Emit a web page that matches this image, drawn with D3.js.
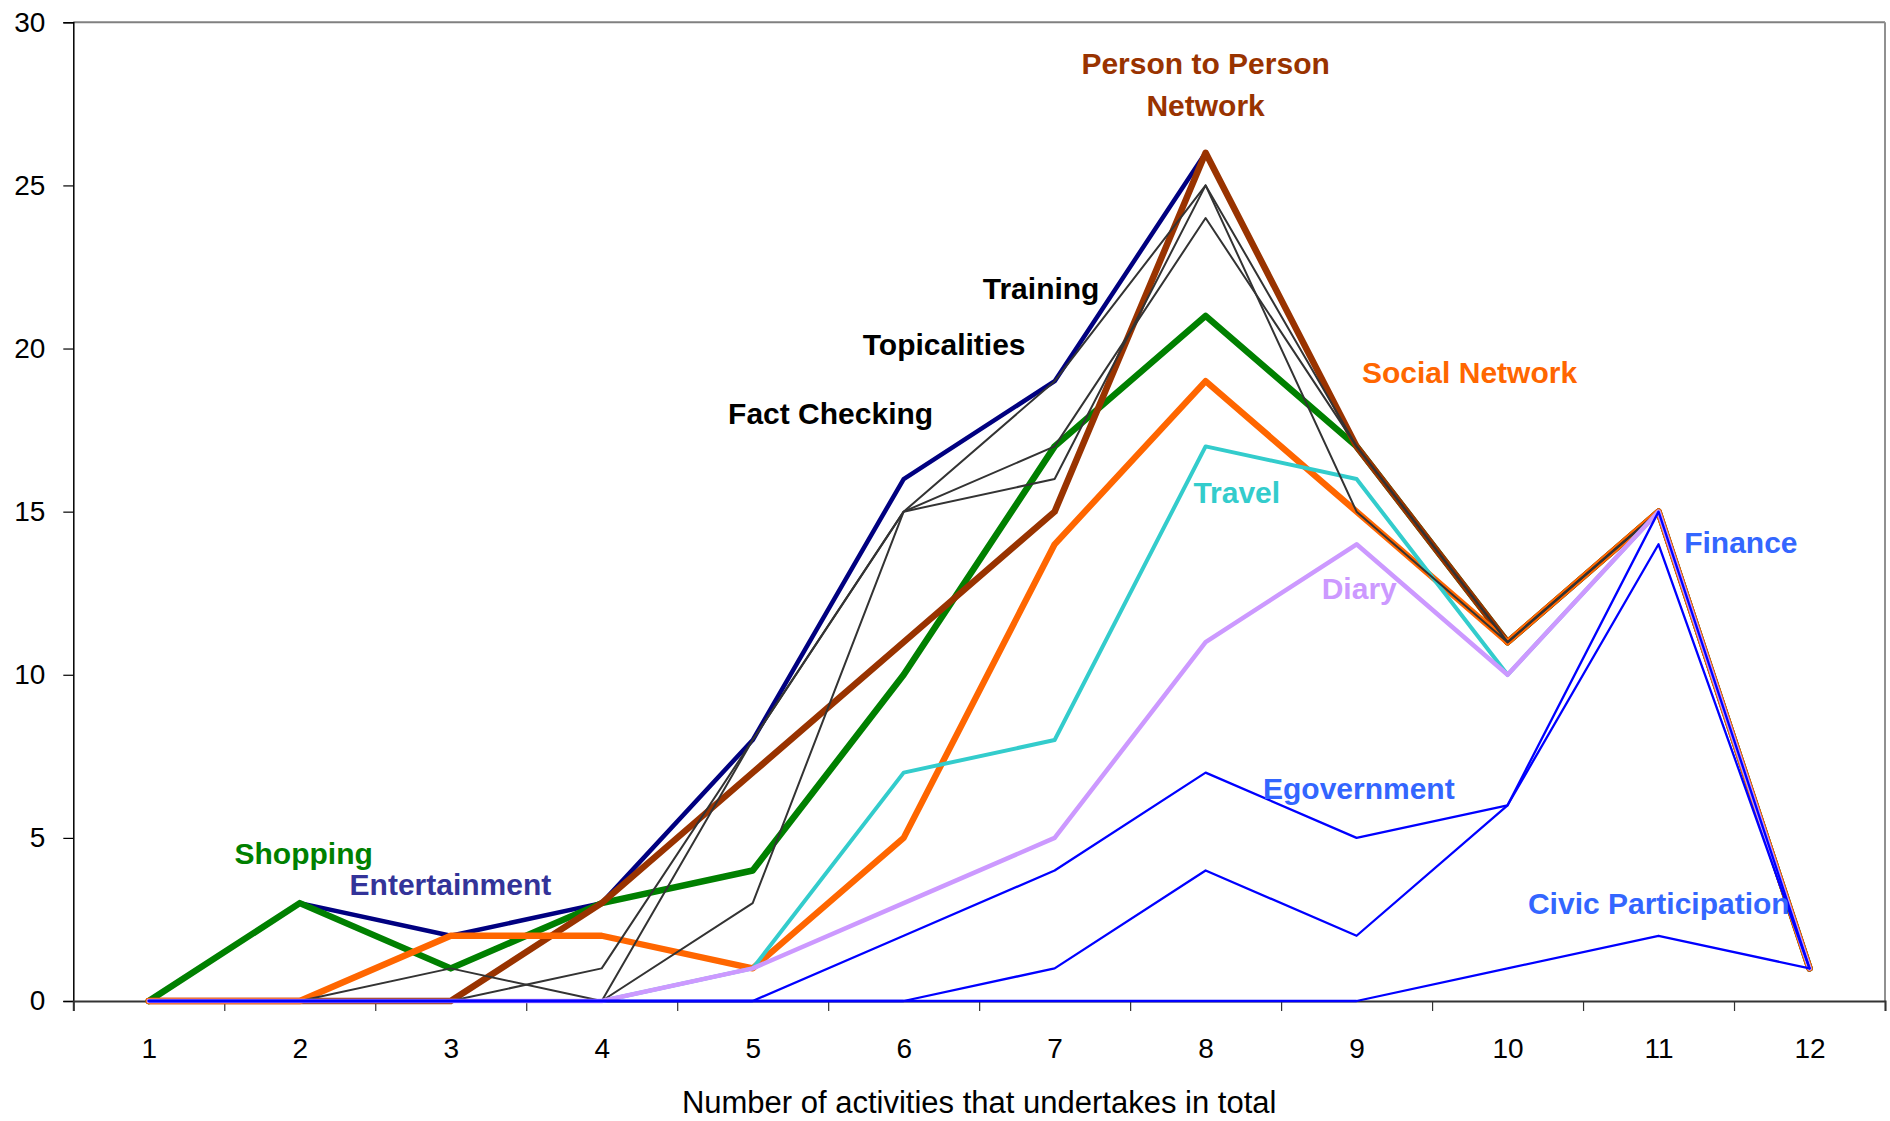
<!DOCTYPE html>
<html>
<head>
<meta charset="utf-8">
<script src="https://cdn.jsdelivr.net/npm/d3@7"></script>
<style>
  body { margin: 0; background: #fff; }
  text { font-family: "Liberation Sans", Arial, sans-serif; }
</style>
</head>
<body>
<script>

// data
const categories = [1, 2, 3, 4, 5, 6, 7, 8, 9, 10, 11, 12];
const yTicks = [0, 5, 10, 15, 20, 25, 30];

const entertainment = [0, 3, 2, 3, 8, 16, 19, 26, 17, 11, 15, 1];
const shopping = [0, 3, 1, 3, 4, 10, 17, 21, 17, 11, 15, 1];
const personToPerson = [0, 0, 0, 3, 7, 11, 15, 26, 17, 11, 15, 1];
const socialNetwork = [0, 0, 2, 2, 1, 5, 14, 19, 15, 11, 15, 1];
const travel = [0, 0, 0, 0, 1, 7, 8, 17, 16, 10, 15, 1];
const training = [0, 0, 0, 1, 8, 15, 19, 25, 17, 11, 15, 1];
const topicalities = [0, 0, 1, 0, 8, 15, 17, 24, 17, 11, 15, 1];
const factChecking = [0, 0, 0, 0, 3, 15, 16, 25, 15, 11, 15, 1];
const diary = [0, 0, 0, 0, 1, 3, 5, 11, 14, 10, 15, 1];
const egovernment = [0, 0, 0, 0, 0, 2, 4, 7, 5, 6, 15, 1];
const finance = [0, 0, 0, 0, 0, 0, 1, 4, 2, 6, 14, 1];
const civicParticipation = [0, 0, 0, 0, 0, 0, 0, 0, 0, 1, 2, 1];

const xTitle = "Number of activities that undertakes in total";

// drawing order, bottom to top
const series = [
  { values: entertainment, color: "#000080", w: 4.5 },
  { values: shopping, color: "#008000", w: 6.5 },
  { values: personToPerson, color: "#993300", w: 6.5 },
  { values: socialNetwork, color: "#ff6600", w: 6.3 },
  { values: travel, color: "#33cccc", w: 4 },
  { values: training, color: "#333333", w: 2 },
  { values: topicalities, color: "#333333", w: 2 },
  { values: factChecking, color: "#333333", w: 2 },
  { values: diary, color: "#cc99ff", w: 4.5 },
  { values: egovernment, color: "#0000ff", w: 2.3 },
  { values: finance, color: "#0000ff", w: 2.3 },
  { values: civicParticipation, color: "#0000ff", w: 2.3 }
];

// labels placed in data units (category, value)
const labels = [
  { text: "Person to Person", c: 8, v: 28.42, color: "#993300", anchor: "middle" },
  { text: "Network", c: 8, v: 27.13, color: "#993300", anchor: "middle" },
  { text: "Training", c: 6.524, v: 21.52, color: "#000" },
  { text: "Topicalities", c: 5.729, v: 19.8, color: "#000" },
  { text: "Fact Checking", c: 4.837, v: 17.69, color: "#000" },
  { text: "Social Network", c: 9.036, v: 18.95, color: "#ff6600" },
  { text: "Travel", c: 7.919, v: 15.27, color: "#33cccc" },
  { text: "Diary", c: 8.769, v: 12.32, color: "#cc99ff" },
  { text: "Finance", c: 11.17, v: 13.73, color: "#3366ff" },
  { text: "Egovernment", c: 8.38, v: 6.19, color: "#3366ff" },
  { text: "Civic Participation", c: 10.135, v: 2.68, color: "#3366ff" },
  { text: "Shopping", c: 1.568, v: 4.2, color: "#008000" },
  { text: "Entertainment", c: 2.33, v: 3.25, color: "#333399" }
];

const W = 1890, H = 1121;
const margin = { top: 22.3, right: 5, bottom: 120, left: 73.3 };
const width = W - margin.left - margin.right;
const height = H - margin.top - margin.bottom;

const svg = d3.select("body")
  .append("svg")
  .attr("width", W)
  .attr("height", H);

const g = svg.append("g")
  .attr("transform", `translate(${margin.left},${margin.top})`);

const xscale = d3.scaleLinear()
  .domain([0.5, categories.length + 0.5])
  .range([0, width]);

const yscale = d3.scaleLinear()
  .domain([0, 30])
  .range([height, 0]);

// frame: grey top and right edges
g.append("line")
  .attr("x1", 0).attr("x2", width)
  .attr("y1", 0).attr("y2", 0)
  .attr("stroke", "#808080").attr("stroke-width", 2);
g.append("line")
  .attr("x1", width).attr("x2", width)
  .attr("y1", 0).attr("y2", height)
  .attr("stroke", "#909090").attr("stroke-width", 2);

// y axis
const yAxis = g.append("g")
  .call(d3.axisLeft(yscale).tickValues(yTicks).tickSize(10).tickPadding(18));
yAxis.select(".domain").attr("stroke", "#000").attr("stroke-width", 1.5);
yAxis.selectAll(".tick line").attr("stroke", "#000").attr("stroke-width", 1.2);
yAxis.selectAll("text")
  .attr("font-size", "28px")
  .attr("fill", "#000");

// x axis: tick marks on category boundaries, labels on centres
const xTickMarks = d3.range(0.5, categories.length + 1, 1);
const xAxis = g.append("g")
  .attr("transform", `translate(0,${height})`)
  .call(d3.axisBottom(xscale).tickValues(xTickMarks).tickSize(10).tickFormat(""));
xAxis.select(".domain").attr("stroke", "#333").attr("stroke-width", 2);
xAxis.selectAll(".tick line").attr("stroke", "#333").attr("stroke-width", 1.2);

const xLabels = g.append("g")
  .attr("transform", `translate(0,${height})`)
  .call(d3.axisBottom(xscale).tickValues(categories).tickSize(0).tickPadding(37).tickFormat(d3.format("d")));
xLabels.select(".domain").remove();
xLabels.selectAll("text")
  .attr("font-size", "28px")
  .attr("fill", "#000");

// lines
const line = d3.line()
  .x((d, i) => xscale(categories[i]))
  .y(d => yscale(d));

series.forEach(s => {
  g.append("path")
    .datum(s.values)
    .attr("fill", "none")
    .attr("stroke", s.color)
    .attr("stroke-width", s.w)
    .attr("stroke-linejoin", "round")
    .attr("stroke-linecap", "round")
    .attr("d", line);
});

// series labels
labels.forEach(l => {
  g.append("text")
    .attr("x", xscale(l.c))
    .attr("y", yscale(l.v))
    .attr("text-anchor", l.anchor || "start")
    .attr("font-size", "30px")
    .attr("font-weight", "bold")
    .attr("fill", l.color)
    .text(l.text);
});

// axis title
svg.append("text")
  .attr("x", margin.left + width / 2)
  .attr("y", 1113)
  .attr("text-anchor", "middle")
  .attr("font-size", "31px")
  .attr("fill", "#000")
  .text(xTitle);

</script>
</body>
</html>
